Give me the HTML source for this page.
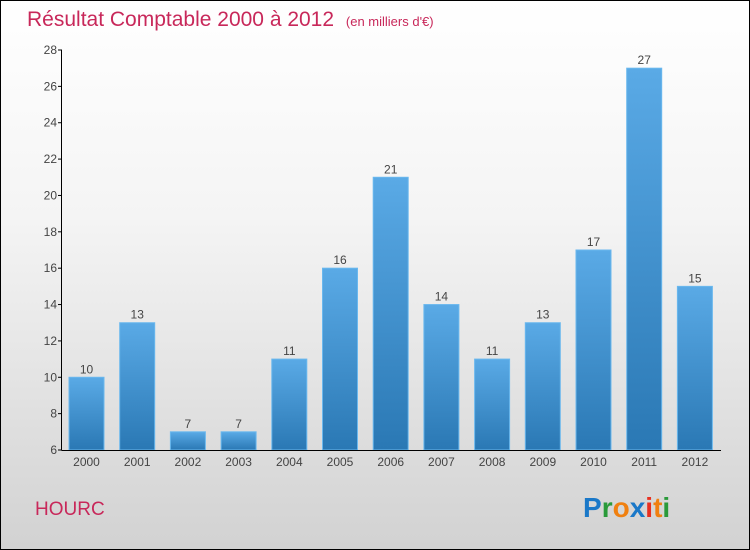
<!DOCTYPE html>
<html><head><meta charset="utf-8"><style>
body{margin:0}
#wrap{position:relative;width:748px;height:548px;border:1px solid #000;background:linear-gradient(#fff 0%,#f4f4f4 40%,#d2d2d2 100%);font-family:"Liberation Sans",sans-serif;overflow:hidden}
</style></head><body>
<div id="wrap">
<svg id="chart" width="748" height="548">
<defs><linearGradient id="bg" x1="0" y1="0" x2="0" y2="1"><stop offset="0" stop-color="#5aaae6"/><stop offset="1" stop-color="#2a78b4"/></linearGradient></defs>
<text x="26" y="25" font-size="21" fill="#c8285a">Résultat Comptable 2000 à 2012 <tspan font-size="13" dx="6">(en milliers d'€)</tspan></text>
<text x="34" y="514" font-size="19" fill="#c8285a">HOURC</text>
<g font-size="28" font-weight="bold" font-family="Liberation Sans,sans-serif">
<text x="582" y="516"><tspan fill="#1a78c8">P</tspan><tspan fill="#2a9a3a">r</tspan><tspan fill="#f08010">o</tspan><tspan fill="#1a78c8">x</tspan><tspan fill="#e83020">i</tspan><tspan fill="#f08010">t</tspan><tspan fill="#2a9a3a">i</tspan></text></g>
<g id="bars"></g><g id="axes"></g>
</svg></div>
<script>
const categories=["2000","2001","2002","2003","2004","2005","2006","2007","2008","2009","2010","2011","2012"];
const values=[10,13,7,7,11,16,21,14,11,13,17,27,15];
const yTicks=[6,8,10,12,14,16,18,20,22,24,26,28];
const ns="http://www.w3.org/2000/svg";
const y0=449,y1=49,vmin=6,vmax=28;
const y=v=>y0-(v-vmin)/(vmax-vmin)*(y0-y1);
const x=i=>85.5+i*50.7;
const bars=document.getElementById('bars'),axes=document.getElementById('axes');
function mk(t,a,p){const e=document.createElementNS(ns,t);for(const k in a)e.setAttribute(k,a[k]);p.appendChild(e);return e;}
values.forEach((v,i)=>{
const r=mk('rect',{x:x(i)-17.5,y:y(v),width:35,height:y0-y(v),fill:'url(#bg)',stroke:'#6ab8ee','stroke-width':1},bars);


const t=mk('text',{x:x(i),y:y(v)-4,'text-anchor':'middle','font-size':12,fill:'#444'},bars);t.textContent=v;


const c=mk('text',{x:x(i),y:y0+16,'text-anchor':'middle','font-size':12,fill:'#444'},axes);c.textContent=categories[i];


});
const ya=mk('line',{x1:60.5,y1:y1,x2:60.5,y2:y0,stroke:'#000'},axes);


const xa=mk('line',{x1:60.5,y1:y0+0.5,x2:720,y2:y0+0.5,stroke:'#000'},axes);


yTicks.forEach(v=>{
mk('line',{x1:57,x2:61,y1:y(v),y2:y(v),stroke:'#000'},axes);
const t=mk('text',{x:56,y:y(v)+4,'text-anchor':'end','font-size':12,fill:'#444'},axes);t.textContent=v;


});
</script>
</body></html>
